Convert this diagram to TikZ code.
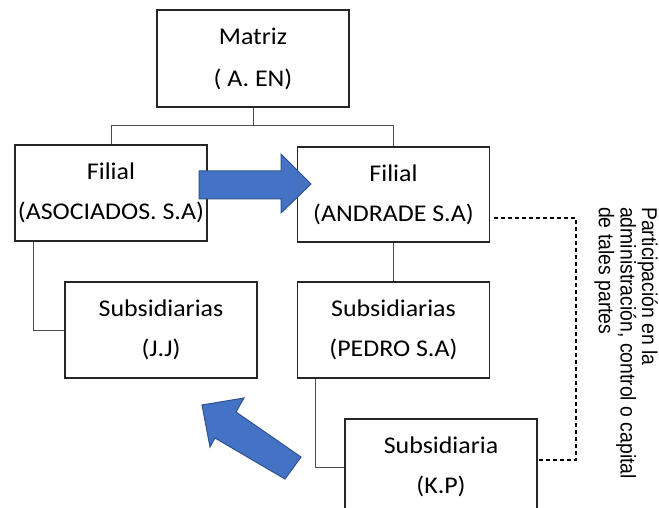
\documentclass[tikz,border=0pt]{standalone}
\usepackage{fontspec}
\newfontfamily\boxfont[FakeStretch=1.08]{Carlito}
\newfontfamily\sidefont{Liberation Sans}
\definecolor{arrowblue}{HTML}{4472C4}
\definecolor{arrowedge}{HTML}{2F528F}
\begin{document}
\begin{tikzpicture}[x=1pt,y=-1pt,
  ent/.style={draw=black!85, line width=1.1pt, fill=white, inner sep=0pt,
    minimum width=192pt, minimum height=96pt, align=center,
    font=\boxfont\fontsize{24}{30}\selectfont},
  link/.style={draw=black!70, line width=1pt},
  dashlink/.style={draw=black, line width=1.2pt, dash pattern=on 4pt off 3pt},
  bluearrow/.style={fill=arrowblue, draw=arrowedge, line width=1pt},
  sidetext/.style={rotate=-90, yscale=1.1, anchor=north west, inner sep=0pt, align=left,
    font=\sidefont\fontsize{19.4}{19.6}\selectfont}]
\useasboundingbox (0,0) rectangle (659,508);
\clip (0,0) rectangle (659,508);
\fill[white] (0,0) rectangle (659,508);

\node[ent, minimum height=97pt] (m) at (253,58.5) {Matriz\\[12pt]( A. EN)};
\node[ent] (fl) at (111,193) {Filial\\[10pt](ASOCIADOS. S.A)};
\node[ent, minimum height=95pt] (fr) at (393.5,194.5) {Filial\\[10pt](ANDRADE S.A)};
\node[ent] (jj) at (161,330) {Subsidiarias\\[10pt](J.J)};
\node[ent] (pe) at (393.5,330) {Subsidiarias\\[10pt](PEDRO S.A)};
\node[ent] (kp) at (441,467) {Subsidiaria\\[10pt](K.P)};

\coordinate (bus) at (253,126);
\draw[link] (m.south) -- (bus);
\draw[link] (bus) -| (fl.north);
\draw[link] (bus) -| (fr.north);
\draw[link] ([xshift=19pt]fl.south west) |- (jj.west);
\draw[link] (fr.south) -- (pe.north);
\draw[link] ([xshift=19pt]pe.south west) |- (kp.west);

\coordinate (dtop) at (576,218);
\coordinate (dbot) at (576,460);
\draw[dashlink] ([xshift=4pt]fr.east |- dtop) -- (dtop) -- (dbot) -- (kp.east |- dbot);

\node[sidetext] (note) at (658,207) {Participación en la\\administración, control o capital\\de tales partes};

\draw[bluearrow] (199,171) -- (281,171) -- (281,154) -- (311,184) -- (281,213) -- (281,199) -- (199,199) -- cycle;
\draw[bluearrow] (202,405) -- (244,398) -- (236,412) -- (301,457) -- (285,479) -- (215,438) -- (210,447) -- cycle;
\end{tikzpicture}
\end{document}
